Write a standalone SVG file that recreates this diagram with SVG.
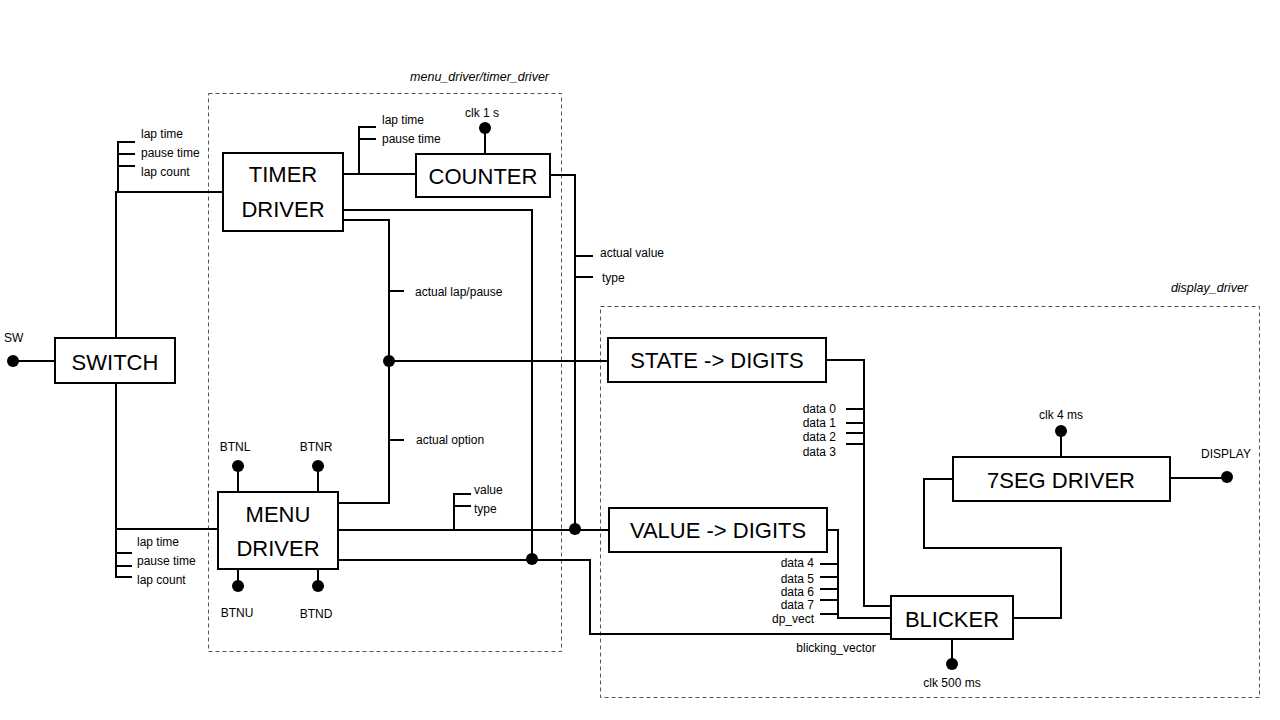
<svg xmlns="http://www.w3.org/2000/svg" width="1280" height="720" viewBox="0 0 1280 720">
<style>
.box{fill:#fff;stroke:#000;stroke-width:2}
.bt{font-family:"Liberation Sans",Arial,sans-serif;font-size:22px;fill:#000;text-anchor:middle}
.lb{font-family:"Liberation Sans",Arial,sans-serif;font-size:12px;fill:#000}
.it{font-family:"Liberation Sans",Arial,sans-serif;font-size:12.5px;font-style:italic;fill:#000;text-anchor:end}
.w{fill:none;stroke:#000;stroke-width:2}
.dash{fill:none;stroke:#555;stroke-width:1;stroke-dasharray:4 3}
.dot{fill:#000}
</style>
<rect width="1280" height="720" fill="#fff"/>
<g id="groups">
<rect class="dash" x="208.5" y="93.5" width="353" height="558"/>
<text class="it" x="549" y="81">menu_driver/timer_driver</text>
<rect class="dash" x="600.5" y="306.5" width="659" height="391"/>
<text class="it" x="1248" y="292">display_driver</text>
</g>
<g id="connectors">
<!-- SW input -->
<path class="w" d="M13 361 H55"/>
<circle class="dot" cx="13" cy="361" r="6"/>
<!-- switch to timer -->
<path class="w" d="M116 338 V192 H223"/>
<path class="w" d="M135 142 H118 V192 M118 154 H135 M118 166 H135"/>
<!-- switch to menu -->
<path class="w" d="M116 383 V529 H218"/>
<path class="w" d="M116 529 V577 H132 M116 553 H132 M116 566 H132"/>
<!-- timer to counter -->
<path class="w" d="M343 174 H416"/>
<path class="w" d="M359 174 V127 H376 M359 139 H376"/>
<path class="w" d="M485 128 V154"/>
<circle class="dot" cx="485" cy="128" r="6"/>
<!-- timer to blicker path -->
<path class="w" d="M343 210 H532 V559"/>
<!-- timer to state -->
<path class="w" d="M343 220 H389 V503 H338"/>
<path class="w" d="M389 291 H404 M389 440 H404"/>
<path class="w" d="M389 361 H608"/>
<circle class="dot" cx="389" cy="361" r="6"/>
<!-- counter to value -->
<path class="w" d="M550 175 H575 V529"/>
<path class="w" d="M575 256 H593 M575 277 H593"/>
<!-- menu to value -->
<path class="w" d="M338 530 H609"/>
<path class="w" d="M454 530 V494 H471 M454 506 H471"/>
<circle class="dot" cx="575" cy="529" r="6"/>
<!-- menu to blicker -->
<path class="w" d="M338 560 H590 V634 H891"/>
<circle class="dot" cx="532" cy="559" r="6"/>
<!-- buttons -->
<path class="w" d="M238 466 V492 M318 466 V492 M238 569 V586 M318 569 V586"/>
<circle class="dot" cx="238" cy="466" r="6"/>
<circle class="dot" cx="318" cy="466" r="6"/>
<circle class="dot" cx="238" cy="586" r="6"/>
<circle class="dot" cx="318" cy="586" r="6"/>
<!-- state to blicker -->
<path class="w" d="M826 360 H864 V606 H891"/>
<path class="w" d="M846 409 H864 M846 423 H864 M846 433 H864 M846 444 H864"/>
<!-- value to blicker -->
<path class="w" d="M827 530 H838 V618 H891"/>
<path class="w" d="M820 564 H838 M820 577 H838 M820 589 H838 M820 600 H838 M820 614 H838"/>
<!-- blicker clk -->
<path class="w" d="M952 639 V664"/>
<circle class="dot" cx="952" cy="664" r="6"/>
<!-- blicker to 7seg -->
<path class="w" d="M1013 618 H1061 V548 H924 V479 H953"/>
<!-- 7seg clk -->
<path class="w" d="M1061 431 V457"/>
<circle class="dot" cx="1061" cy="431" r="6"/>
<!-- display -->
<path class="w" d="M1170 478 H1227"/>
<circle class="dot" cx="1227" cy="477" r="6"/>
</g>
<g id="switch">
<rect class="box" x="55" y="338" width="120" height="45"/>
<text class="bt" x="115" y="370">SWITCH</text>
<text class="lb" x="4" y="342">SW</text>
</g>
<g id="timer_driver">
<rect class="box" x="223" y="153" width="120" height="78"/>
<text class="bt" x="283" y="182">TIMER</text>
<text class="bt" x="283" y="217">DRIVER</text>
</g>
<g id="counter">
<rect class="box" x="416" y="154" width="134" height="43"/>
<text class="bt" x="483" y="184">COUNTER</text>
<text class="lb" x="482" y="117" text-anchor="middle">clk 1 s</text>
</g>
<g id="menu_driver">
<rect class="box" x="218" y="492" width="120" height="77"/>
<text class="bt" x="278" y="522">MENU</text>
<text class="bt" x="278" y="556">DRIVER</text>
<text class="lb" x="235" y="451" text-anchor="middle">BTNL</text>
<text class="lb" x="316" y="451" text-anchor="middle">BTNR</text>
<text class="lb" x="237" y="617" text-anchor="middle">BTNU</text>
<text class="lb" x="316" y="618" text-anchor="middle">BTND</text>
</g>
<g id="state_digits">
<rect class="box" x="608" y="338" width="218" height="44"/>
<text class="bt" x="717" y="368">STATE -&gt; DIGITS</text>
</g>
<g id="value_digits">
<rect class="box" x="609" y="508" width="218" height="44"/>
<text class="bt" x="718" y="538">VALUE -&gt; DIGITS</text>
</g>
<g id="blicker">
<rect class="box" x="891" y="596" width="122" height="43"/>
<text class="bt" x="952" y="627">BLICKER</text>
<text class="lb" x="952" y="687" text-anchor="middle">clk 500 ms</text>
</g>
<g id="seg_driver">
<rect class="box" x="953" y="457" width="217" height="44"/>
<text class="bt" x="1061" y="488">7SEG DRIVER</text>
<text class="lb" x="1061" y="419" text-anchor="middle">clk 4 ms</text>
<text class="lb" x="1226" y="458" text-anchor="middle">DISPLAY</text>
</g>
<g id="labels">
<text class="lb" x="141" y="138">lap time</text>
<text class="lb" x="141" y="157">pause time</text>
<text class="lb" x="141" y="176">lap count</text>
<text class="lb" x="137" y="546">lap time</text>
<text class="lb" x="137" y="565">pause time</text>
<text class="lb" x="137" y="584">lap count</text>
<text class="lb" x="382" y="124">lap time</text>
<text class="lb" x="382" y="143">pause time</text>
<text class="lb" x="415" y="296">actual lap/pause</text>
<text class="lb" x="416" y="444">actual option</text>
<text class="lb" x="474" y="494">value</text>
<text class="lb" x="474" y="513">type</text>
<text class="lb" x="600" y="257">actual value</text>
<text class="lb" x="602" y="282">type</text>
<text class="lb" x="836" y="413" text-anchor="end">data 0</text>
<text class="lb" x="836" y="427" text-anchor="end">data 1</text>
<text class="lb" x="836" y="441" text-anchor="end">data 2</text>
<text class="lb" x="836" y="456" text-anchor="end">data 3</text>
<text class="lb" x="814" y="567" text-anchor="end">data 4</text>
<text class="lb" x="814" y="583" text-anchor="end">data 5</text>
<text class="lb" x="814" y="596" text-anchor="end">data 6</text>
<text class="lb" x="814" y="609" text-anchor="end">data 7</text>
<text class="lb" x="814" y="623" text-anchor="end">dp_vect</text>
<text class="lb" x="836" y="652" text-anchor="middle">blicking_vector</text>
</g>
</svg>
